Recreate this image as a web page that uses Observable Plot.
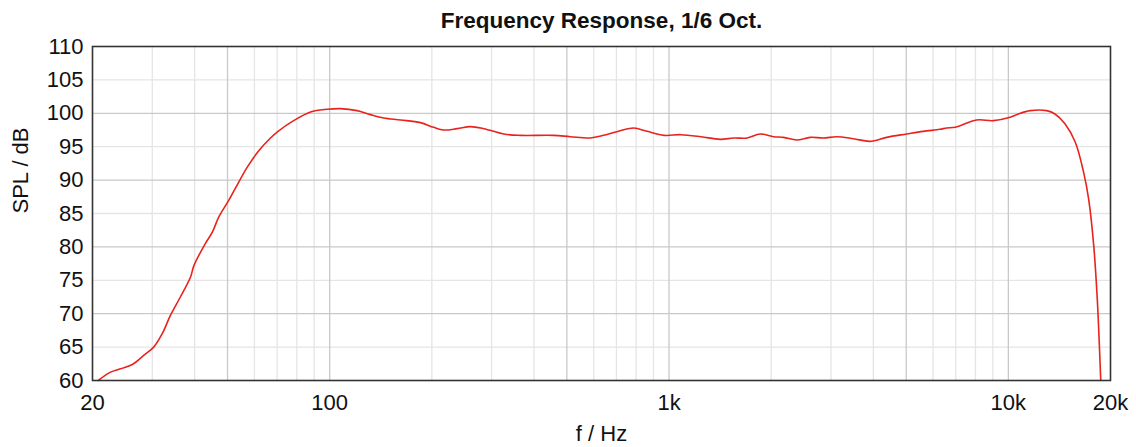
<!DOCTYPE html>
<html>
<head>
<meta charset="utf-8">
<script src="https://cdn.jsdelivr.net/npm/d3@7"></script>
<script src="https://cdn.jsdelivr.net/npm/@observablehq/plot@0.6"></script>
<style>
  html, body { margin: 0; padding: 0; background: #fff; }
</style>
</head>
<body>
<div id="chart"></div>
<script>
// Frequency (Hz) and SPL (dB)
const freq = [20.8, 22.6, 24.2, 26.2, 28.3, 30.3, 32.1, 33.9, 36.3, 38.9, 39.8, 43.0, 45.1, 47.1, 50.4, 53.3, 57.1, 61.8, 66.9, 70.0, 78.3, 87.8, 98.3, 107.5, 120.4, 131.8, 144.2, 161.8, 185, 202.4, 216.6, 237.6, 259.8, 284.6, 325.8, 364.6, 456.6, 512, 586, 642, 718, 787, 862, 966, 1084, 1242, 1414, 1552, 1698, 1858, 2034, 2176, 2380, 2606, 2852, 3120, 3494, 3910, 4376, 5012, 5614, 6286, 6580, 6980, 8060, 9036, 10120, 10700, 11600, 12960, 13720, 14700, 15740, 16660, 17240, 17850, 18260, 18460, 18720];
const spl = [60.0, 61.25, 61.75, 62.4, 63.75, 65.0, 67.0, 69.7, 72.5, 75.5, 77.2, 80.5, 82.2, 84.45, 86.95, 89.2, 91.9, 94.4, 96.3, 97.2, 98.9, 100.2, 100.6, 100.7, 100.4, 99.8, 99.3, 99.0, 98.6, 97.9, 97.5, 97.7, 98.0, 97.7, 96.9, 96.7, 96.7, 96.5, 96.3, 96.7, 97.4, 97.8, 97.3, 96.7, 96.8, 96.5, 96.1, 96.3, 96.3, 96.9, 96.5, 96.4, 96.0, 96.4, 96.3, 96.5, 96.2, 95.8, 96.4, 96.9, 97.3, 97.6, 97.8, 97.9, 99.0, 98.9, 99.4, 99.9, 100.4, 100.4, 99.9, 98.4, 95.7, 91.2, 87.2, 80.2, 72.7, 67.7, 60.0];

const xTickValues = [20, 100, 1000, 10000, 20000];
const xTickLabels = ["20", "100", "1k", "10k", "20k"];
const yTickValues = [60, 65, 70, 75, 80, 85, 90, 95, 100, 105, 110];
const xMajorGrid = [50, 100, 500, 1000, 5000, 10000];
const xMinorGrid = [30, 40, 60, 70, 80, 90, 200, 300, 400, 600, 700, 800, 900, 2000, 3000, 4000, 6000, 7000, 8000, 9000];
const yMajorGrid = [70, 80, 90, 100];
const yMinorGrid = [65, 75, 85, 95, 105];

const titleText = "Frequency Response, 1/6 Oct.";
const xLabel = "f / Hz";
const yLabel = "SPL / dB";

const data = freq.map((f, i) => ({f, v: spl[i]}));

const chart = Plot.plot({
  width: 1136,
  height: 447,
  marginLeft: 92,
  marginRight: 26,
  marginTop: 46,
  marginBottom: 67,
  style: {fontFamily: "'Liberation Sans', Arial, sans-serif", fontSize: "22px", background: "#fff", color: "#111"},
  x: {type: "log", domain: [20, 20000]},
  y: {domain: [60, 110]},
  marks: [
    Plot.ruleX(xMinorGrid, {stroke: "#e5e5e5", strokeWidth: 1.3}),
    Plot.ruleY(yMinorGrid, {stroke: "#e5e5e5", strokeWidth: 1.3}),
    Plot.ruleX(xMajorGrid, {stroke: "#c9c9c9", strokeWidth: 1.3}),
    Plot.ruleY(yMajorGrid, {stroke: "#c9c9c9", strokeWidth: 1.3}),
    Plot.line(data, {x: "f", y: "v", stroke: "#e8231d", strokeWidth: 1.6, curve: "catmull-rom"}),
    Plot.frame({stroke: "#333", strokeWidth: 1.6}),
    Plot.axisY({ticks: yTickValues, tickSize: 0, tickPadding: 9, fontSize: 22, label: null}),
    Plot.axisX({ticks: xTickValues, tickFormat: d => xTickLabels[xTickValues.indexOf(d)], tickSize: 0, tickPadding: 14, fontSize: 22, label: null}),
    Plot.text([titleText], {frameAnchor: "top", dy: -26, fontSize: 22.5, fontWeight: "bold", lineAnchor: "middle", fill: "#111"}),
    Plot.text([xLabel], {frameAnchor: "bottom", dy: 53, fontSize: 22, lineAnchor: "middle", fill: "#111"}),
    Plot.text([yLabel], {frameAnchor: "left", dx: -72, rotate: -90, fontSize: 22, lineAnchor: "middle", fill: "#111"})
  ]
});
document.getElementById("chart").appendChild(chart);
</script>
</body>
</html>
